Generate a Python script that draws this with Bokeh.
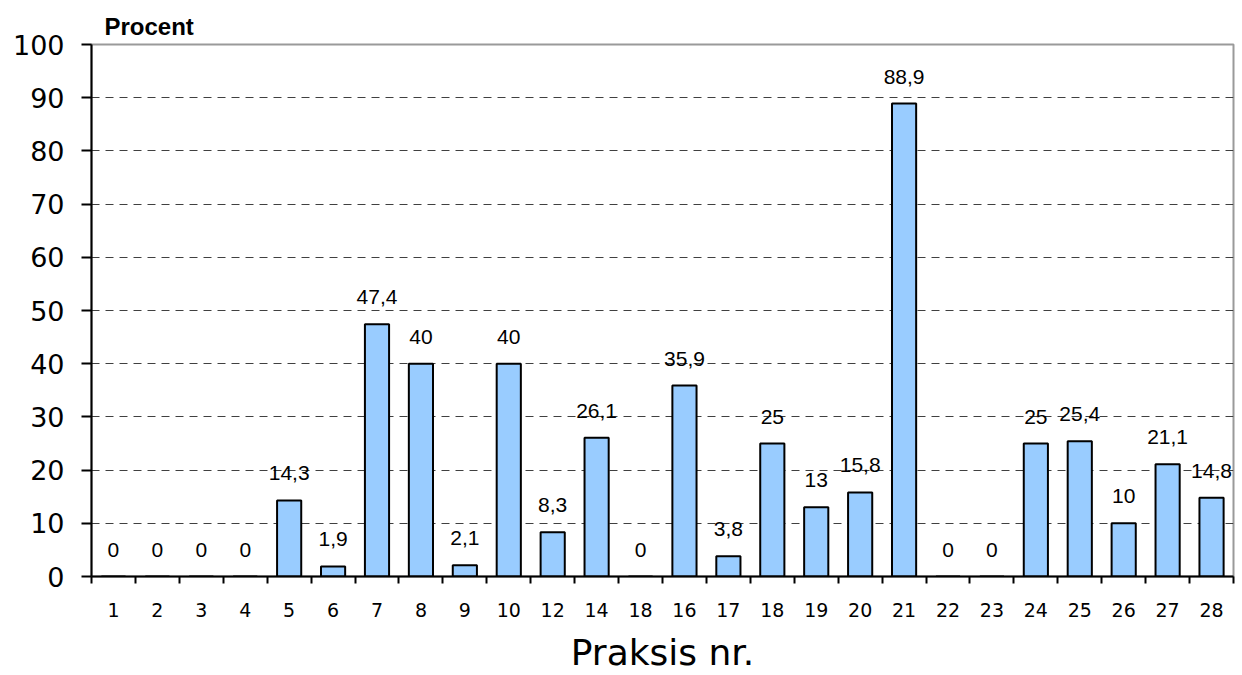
from bokeh.plotting import figure
from bokeh.models import Range1d, FixedTicker, ColumnDataSource
from bokeh.core.properties import value
from bokeh.embed import file_html
from bokeh.resources import INLINE

# Practice numbers as printed on the axis (18 appears twice) and percentages
praksis = ["1", "2", "3", "4", "5", "6", "7", "8", "9", "10", "12", "14", "18",
           "16", "17", "18", "19", "20", "21", "22", "23", "24", "25", "26", "27", "28"]
procent = [0, 0, 0, 0, 14.3, 1.9, 47.4, 40, 2.1, 40, 8.3, 26.1, 0,
           35.9, 3.8, 25, 13, 15.8, 88.9, 0, 0, 25, 25.4, 10, 21.1, 14.8]
y_ticks = [0, 10, 20, 30, 40, 50, 60, 70, 80, 90, 100]


def fmt(v):
    s = f"{v:g}"
    return s.replace(".", ",")


n = len(praksis)
centers = [i + 0.5 for i in range(n)]
source = ColumnDataSource(dict(
    x=centers,
    top=procent,
    label=[fmt(v) for v in procent],
))

p = figure(
    width=1242, height=675,
    x_range=Range1d(0, n), y_range=Range1d(0, 100),
    output_backend="svg", toolbar_location=None,
    min_border_left=91, min_border_right=9,
    min_border_top=44, min_border_bottom=98,
    title="Procent",
)
p.background_fill_color = "white"
p.border_fill_color = "white"
p.outline_line_color = "#9a9a9a"
p.outline_line_width = 2

p.title.text_font = "Liberation Sans"
p.title.text_font_style = "bold"
p.title.text_font_size = "24px"
p.title.text_color = "black"
p.title.align = "left"
p.title.offset = 13
p.title.standoff = 10

# bars
p.vbar(x="x", top="top", width=0.55, source=source,
       fill_color="#99ccff", line_color="black", line_width=2)

# value labels above bars
p.text(x="x", y="top", text="label", source=source,
       text_font=value("Liberation Sans"), text_font_size="21px",
       text_align="center", text_baseline="middle", y_offset=-27,
       text_color="black")

# x axis: labels at bar centres, tick marks at category boundaries
xa = p.xaxis[0]
xa.ticker = FixedTicker(ticks=centers, minor_ticks=list(range(n + 1)))
xa.major_label_overrides = {c: lab for c, lab in zip(centers, praksis)}
xa.major_tick_out = 0
xa.major_tick_in = 0
xa.minor_tick_out = 7
xa.minor_tick_in = 0
xa.minor_tick_line_color = "black"
xa.minor_tick_line_width = 2
xa.axis_line_color = "black"
xa.axis_line_width = 2
xa.major_label_text_font = "DejaVu Sans"
xa.major_label_text_font_size = "19px"
xa.major_label_text_color = "black"
xa.major_label_standoff = 19
xa.axis_label = "Praksis nr."
xa.axis_label_text_font = "DejaVu Sans"
xa.axis_label_text_font_size = "36px"
xa.axis_label_text_font_style = "normal"
xa.axis_label_text_color = "black"
xa.axis_label_standoff = 12

# y axis
ya = p.yaxis[0]
ya.ticker = FixedTicker(ticks=y_ticks)
ya.major_tick_out = 10
ya.major_tick_in = 0
ya.minor_tick_out = 0
ya.minor_tick_in = 0
ya.major_tick_line_color = "black"
ya.major_tick_line_width = 2
ya.axis_line_color = "black"
ya.axis_line_width = 2
ya.major_label_text_font = "DejaVu Sans"
ya.major_label_text_font_size = "27px"
ya.major_label_text_color = "black"
ya.major_label_standoff = 17

p.xgrid.grid_line_color = None
p.ygrid.ticker = FixedTicker(ticks=y_ticks[1:-1])
p.ygrid.grid_line_color = "#404040"
p.ygrid.grid_line_dash = "8 6"
p.ygrid.grid_line_width = 1

open("out.html", "w").write(file_html(p, INLINE))
